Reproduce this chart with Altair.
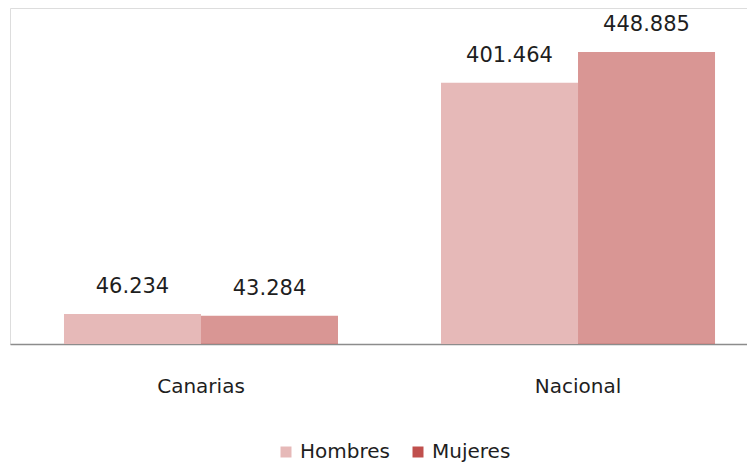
import altair as alt
import pandas as pd

regiones = ["Canarias", "Canarias", "Nacional", "Nacional"]
sexos = ["Hombres", "Mujeres", "Hombres", "Mujeres"]
valores = [46.234, 43.284, 401.464, 448.885]

df = pd.DataFrame({"Region": regiones, "Sexo": sexos, "Valor": valores})

FONT = "DejaVu Sans"

x_enc = alt.X(
    "Region:N",
    sort=["Canarias", "Nacional"],
    scale=alt.Scale(paddingInner=0.2732, paddingOuter=0.114, align=0.628),
    axis=alt.Axis(
        title=None,
        labelAngle=0,
        ticks=False,
        tickSize=0,
        labelPadding=48,
        labelBaseline="alphabetic",
        labelFont=FONT,
        labelFontSize=20,
        labelColor="#1e1e1e",
        domainColor="#8c8c8c",
        domainWidth=1.6,
        grid=False,
    ),
)
xoff_enc = alt.XOffset(
    "Sexo:N",
    sort=["Hombres", "Mujeres"],
    scale=alt.Scale(paddingInner=0, paddingOuter=0),
)
y_enc = alt.Y(
    "Valor:Q",
    scale=alt.Scale(domain=[0, 516.5], nice=False, zero=True),
    axis=None,
)

bars = alt.Chart(df).mark_bar(strokeWidth=0).encode(
    x=x_enc,
    xOffset=xoff_enc,
    y=y_enc,
    color=alt.Color(
        "Sexo:N",
        sort=["Hombres", "Mujeres"],
        scale=alt.Scale(domain=["Hombres", "Mujeres"], range=["#E6B9B8", "#C0504D"]),
        legend=alt.Legend(
            title=None,
            orient="none",
            legendX=266,
            legendY=434,
            direction="horizontal",
            symbolType="square",
            symbolSize=121,
            symbolStrokeWidth=0,
            labelFont=FONT,
            labelFontSize=20,
            labelColor="#1e1e1e",
            labelOffset=4,
            columnPadding=18,
        ),
    ),
    opacity=alt.condition(alt.datum.Sexo == "Mujeres", alt.value(0.6), alt.value(1.0)),
)

labels = alt.Chart(df).mark_text(
    font=FONT, fontSize=21, color="#1e1e1e", baseline="alphabetic", dy=-21
).encode(
    x=x_enc,
    xOffset=xoff_enc,
    y=y_enc,
    text=alt.Text("Valor:Q", format=".3f"),
)

chart = (
    alt.layer(bars, labels)
    .properties(width=737, height=336, padding={"left": 2, "top": 0, "right": 0, "bottom": 0})
    .configure_view(stroke="transparent", strokeWidth=0)
    .configure(background="white")
)

chart.save("out.html", embed_options={"renderer": "svg", "actions": False})
